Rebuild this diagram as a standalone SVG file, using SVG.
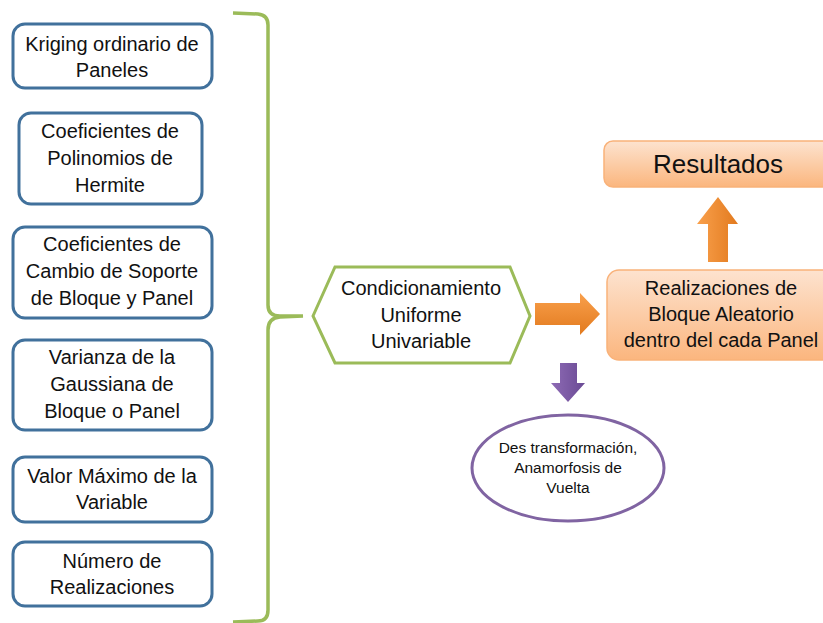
<svg xmlns="http://www.w3.org/2000/svg" width="823" height="623" viewBox="0 0 823 623">
<style>
.box{fill:#fff;stroke:#41719C;stroke-width:3}
.t{font-family:"Liberation Sans",Arial,sans-serif;font-size:20px;fill:#111;text-anchor:middle}
.ts{font-family:"Liberation Sans",Arial,sans-serif;font-size:15.5px;fill:#111;text-anchor:middle}
.tb{font-family:"Liberation Sans",Arial,sans-serif;font-size:26px;fill:#111;text-anchor:middle}
.obox{fill:url(#og);stroke:#F9B27A;stroke-width:1.5}
.green{fill:none;stroke:#9BBB59;stroke-width:3.5}
</style>
<defs>
<linearGradient id="og" x1="0" y1="0" x2="0" y2="1">
<stop offset="0" stop-color="#FDE3CF"/>
<stop offset="1" stop-color="#FBB67E"/>
</linearGradient>
<linearGradient id="oa" x1="0" y1="0" x2="0" y2="1">
<stop offset="0" stop-color="#F9A04C"/>
<stop offset="1" stop-color="#E27A1E"/>
</linearGradient>
<linearGradient id="oa2" x1="0" y1="0" x2="1" y2="0">
<stop offset="0" stop-color="#F9A04C"/>
<stop offset="1" stop-color="#E27A1E"/>
</linearGradient>
<linearGradient id="pa" x1="0" y1="0" x2="1" y2="0">
<stop offset="0" stop-color="#8E6BB5"/>
<stop offset="1" stop-color="#6A4A94"/>
</linearGradient>
</defs>

<g id="connectors">
<path class="green" d="M233,13 L258,14 Q268,15 268,25 L268,305 Q268,316 280,316 L303,316 L280,317 Q268,318 268,330 L268,610 Q268,621 258,621 L233,622"/>
<path d="M535,303 L580,303 L580,293 L600,314 L580,335 L580,325 L535,325 Z" fill="url(#oa)"/>
<path d="M708,262 L708,224 L697,224 L718,197 L738,224 L728,224 L728,262 Z" fill="url(#oa2)"/>
<path d="M560,363 L577,363 L577,383 L585,383 L568,402 L551,383 L560,383 Z" fill="url(#pa)"/>
</g>

<g id="n1"><rect class="box" x="13" y="24" width="199" height="64" rx="12"/>
<text class="t" x="112" y="51">Kriging ordinario de</text><text class="t" x="112" y="77">Paneles</text></g>

<g id="n2"><rect class="box" x="19" y="113" width="183" height="91" rx="12"/>
<text class="t" x="110" y="138">Coeficientes de</text><text class="t" x="110" y="165">Polinomios de</text><text class="t" x="110" y="192">Hermite</text></g>

<g id="n3"><rect class="box" x="13" y="227" width="199" height="91" rx="12"/>
<text class="t" x="112" y="251">Coeficientes de</text><text class="t" x="112" y="278">Cambio de Soporte</text><text class="t" x="112" y="305">de Bloque y Panel</text></g>

<g id="n4"><rect class="box" x="13" y="340" width="199" height="90" rx="12"/>
<text class="t" x="112" y="364">Varianza  de la</text><text class="t" x="112" y="391">Gaussiana de</text><text class="t" x="112" y="418">Bloque o Panel</text></g>

<g id="n5"><rect class="box" x="13" y="457" width="199" height="65" rx="12"/>
<text class="t" x="112" y="483">Valor Máximo de la</text><text class="t" x="112" y="509">Variable</text></g>

<g id="n6"><rect class="box" x="13" y="542" width="199" height="64" rx="12"/>
<text class="t" x="112" y="568">Número de</text><text class="t" x="112" y="594">Realizaciones</text></g>

<g id="hex"><polygon points="313,316 335,267 510,267 530,316 510,363 335,363" fill="#fff" stroke="#9BBB59" stroke-width="3"/>
<text class="t" x="421" y="295">Condicionamiento</text><text class="t" x="421" y="322">Uniforme</text><text class="t" x="421" y="348">Univariable</text></g>

<g id="resultados"><rect class="obox" x="604" y="141" width="230" height="46" rx="9"/>
<text class="tb" x="718" y="173">Resultados</text></g>

<g id="realizaciones"><rect class="obox" x="607" y="270" width="228" height="90" rx="12"/>
<text class="t" x="721" y="295">Realizaciones de</text><text class="t" x="721" y="321">Bloque Aleatorio</text><text class="t" x="721" y="347">dentro del cada Panel</text></g>

<g id="ellipse"><ellipse cx="568" cy="468" rx="96" ry="53" fill="#fff" stroke="#8064A2" stroke-width="3"/>
<text class="ts" x="568" y="453">Des transformación,</text><text class="ts" x="568" y="473">Anamorfosis de</text><text class="ts" x="568" y="493">Vuelta</text></g>
</svg>
